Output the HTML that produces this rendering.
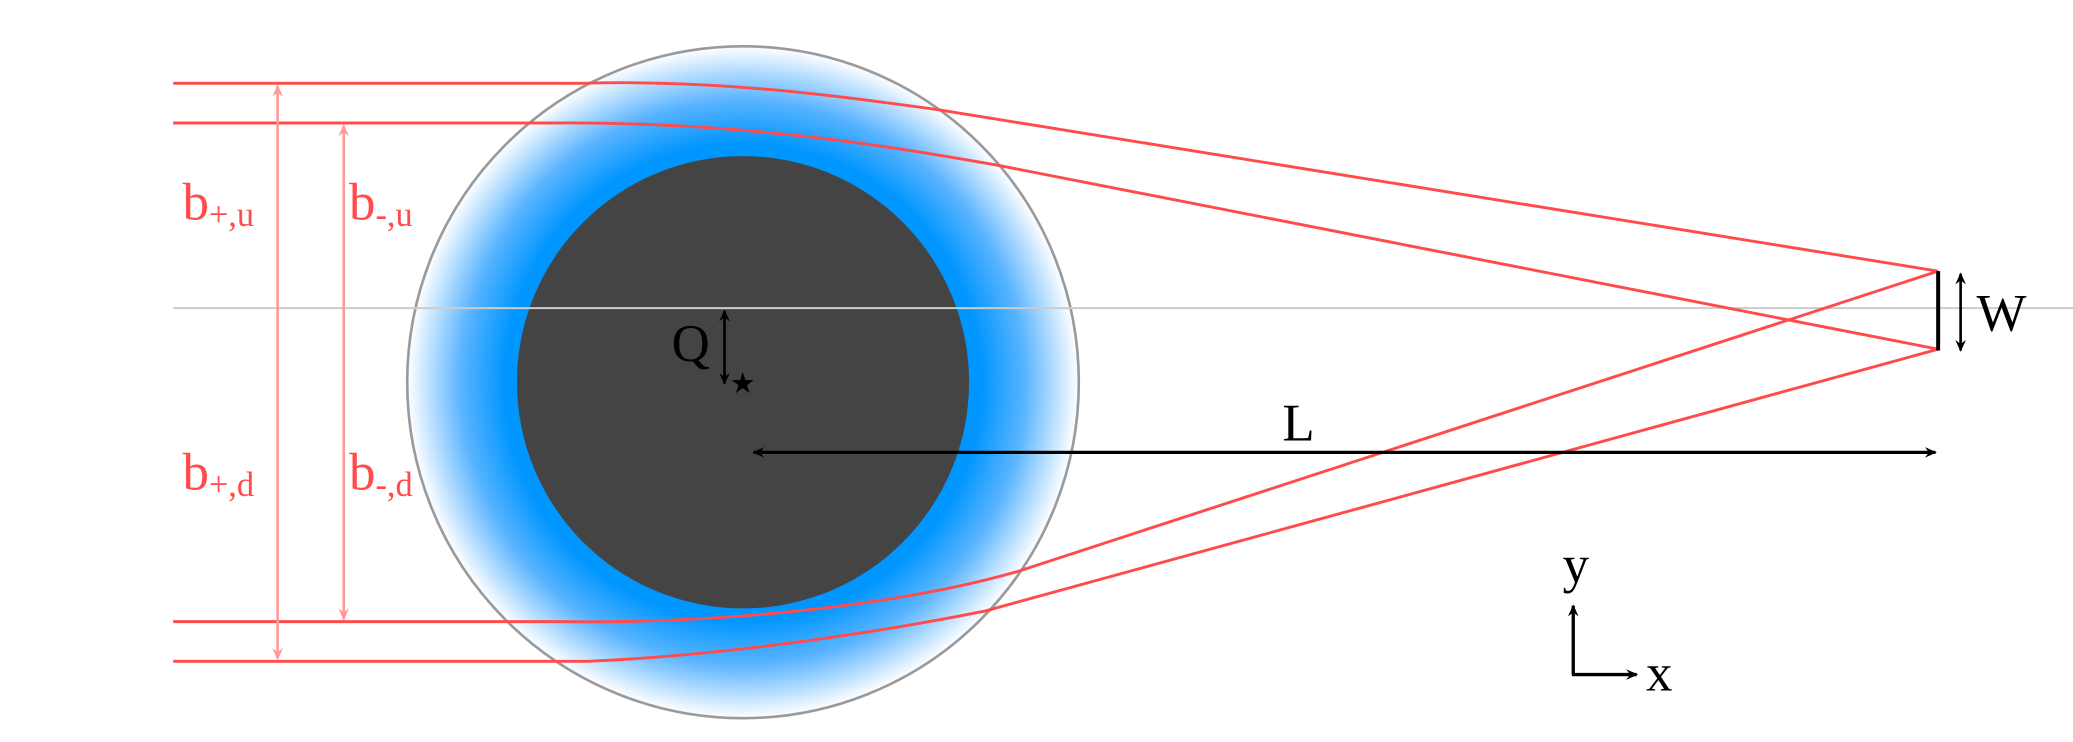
<!DOCTYPE html>
<html><head><meta charset="utf-8"><style>
html,body{margin:0;padding:0;background:#fff;width:2073px;height:742px;overflow:hidden}
svg{display:block}
text{font-family:"Liberation Serif",serif}
</style></head><body>
<svg width="2073" height="742" viewBox="0 0 1568 561" preserveAspectRatio="none" xmlns="http://www.w3.org/2000/svg">
<defs>
<radialGradient id="g" cx="562" cy="289" r="254" gradientUnits="userSpaceOnUse">
<stop offset="0" stop-color="#0096ff"/>
<stop offset="0.71" stop-color="#0096ff"/>
<stop offset="0.84" stop-color="#5ab4ff"/>
<stop offset="1" stop-color="#ffffff"/>
</radialGradient>
<marker id="ap" markerWidth="10" markerHeight="10" refX="8" refY="5" orient="auto-start-reverse" markerUnits="userSpaceOnUse"><path d="M0,1 L9,5 L0,9 L3,5z" fill="#ff9a9a"/></marker>
<marker id="ak" markerWidth="10" markerHeight="10" refX="8" refY="5" orient="auto-start-reverse" markerUnits="userSpaceOnUse"><path d="M0,1 L9,5 L0,9 L3,5z" fill="#000"/></marker>
</defs>
<circle cx="562" cy="289" r="254" fill="url(#g)" stroke="#9a9a9a" stroke-width="2"/>
<circle cx="562" cy="289" r="171" fill="#444"/>
<line x1="131" y1="233" x2="1568" y2="233" stroke="#cccccc" stroke-width="1.5"/>
<g fill="none" stroke="#ff4b4b" stroke-width="2.2">
<path d="M131,63 L440,63 C540,60 630,72 710,83 L1466,205"/>
<path d="M131,93 L420,93 C560,92 670,110 755,125 L1466,264"/>
<path d="M131,470 L420,470 C560,472 690,455 770,432 L1466,205"/>
<path d="M131,500 L445,500 C560,495 680,475 745,462 L1466,264"/>
</g>
<line x1="210" y1="65" x2="210" y2="498" stroke="#ff9a9a" stroke-width="2" marker-start="url(#ap)" marker-end="url(#ap)"/>
<line x1="260" y1="95" x2="260" y2="468" stroke="#ff9a9a" stroke-width="2" marker-start="url(#ap)" marker-end="url(#ap)"/>
<g fill="#ff4b4b" font-size="40">
<text x="138" y="166">b<tspan font-size="26" dy="5">+,u</tspan></text>
<text x="264" y="166">b<tspan font-size="26" dy="5">-,u</tspan></text>
<text x="138" y="370">b<tspan font-size="26" dy="5">+,d</tspan></text>
<text x="264" y="370">b<tspan font-size="26" dy="5">-,d</tspan></text>
</g>
<line x1="548" y1="235" x2="548" y2="290" stroke="#000" stroke-width="2" marker-start="url(#ak)" marker-end="url(#ak)"/>
<text x="508" y="273" font-size="40">Q</text>
<text x="552" y="297" font-size="22">★</text>
<line x1="570" y1="342" x2="1464" y2="342" stroke="#000" stroke-width="2.5" marker-start="url(#ak)" marker-end="url(#ak)"/>
<text x="970" y="333" font-size="40">L</text>
<line x1="1466" y1="205" x2="1466" y2="265" stroke="#000" stroke-width="3"/>
<line x1="1483" y1="207" x2="1483" y2="265" stroke="#000" stroke-width="2" marker-start="url(#ak)" marker-end="url(#ak)"/>
<text x="1495" y="250" font-size="40">W</text>
<line x1="1190" y1="510" x2="1190" y2="458" stroke="#000" stroke-width="2.5" marker-end="url(#ak)"/>
<line x1="1189" y1="510" x2="1238" y2="510" stroke="#000" stroke-width="2.5" marker-end="url(#ak)"/>
<text x="1182" y="440" font-size="40">y</text>
<text x="1245" y="522" font-size="40">x</text>
</svg>
</body></html>
